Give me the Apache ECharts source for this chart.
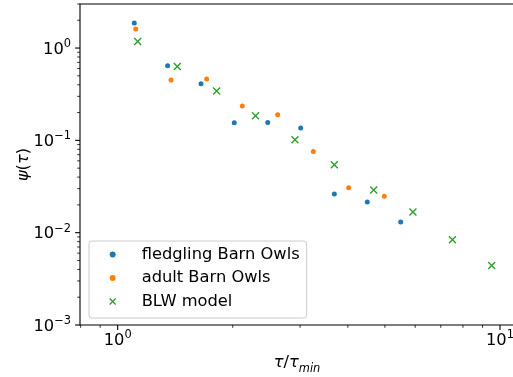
<!DOCTYPE html>
<html>
<head>
<meta charset="utf-8">
<script src="https://cdn.jsdelivr.net/npm/echarts@6/dist/echarts.min.js"></script>
<style>
  html, body { margin: 0; padding: 0; background: #fff; }
  #chart { width: 513px; height: 377px; }
</style>
</head>
<body>
<div id="chart"></div>
<script>
// values (log-log)
const fledglingX = [1.105, 1.351, 1.652, 2.018, 2.469, 3.011, 3.687, 4.497, 5.499];
const fledglingY = [1.866, 0.643, 0.4106, 0.1552, 0.1564, 0.136, 0.02622, 0.02148, 0.01304];
const adultX = [1.115, 1.379, 1.709, 2.118, 2.621, 3.249, 4.02, 4.982];
const adultY = [1.606, 0.450, 0.4616, 0.2354, 0.1895, 0.0759, 0.0307, 0.0248];
const blwX = [1.128, 1.432, 1.815, 2.294, 2.909, 3.687, 4.675, 5.92, 7.51, 9.51];
const blwY = [1.179, 0.632, 0.342, 0.1848, 0.1016, 0.0545, 0.02897, 0.01674, 0.00839, 0.00442];

const seriesNames = ['fledgling Barn Owls', 'adult Barn Owls', 'BLW model'];

// tick positions (matplotlib style log ticks)
const xMajorTicks = [1, 10];
const xMinorTicks = [0.8, 0.9, 2, 3, 4, 5, 6, 7, 8, 9];
const yMajorTicks = [0.001, 0.01, 0.1, 1];
const yMinorTicks = [
  0.002, 0.003, 0.004, 0.005, 0.006, 0.007, 0.008, 0.009,
  0.02, 0.03, 0.04, 0.05, 0.06, 0.07, 0.08, 0.09,
  0.2, 0.3, 0.4, 0.5, 0.6, 0.7, 0.8, 0.9,
  2, 3
];

const X_MIN = 0.797, X_MAX = 10.88;
const Y_MIN = 0.001, Y_MAX = 3.0;

const FONT = 'DejaVu Sans';
const FS = 16.3;
const xMarkPath = 'path://M0,0L10,10M10,0L0,10';

const zip = (xs, ys) => xs.map((x, i) => [x, ys[i]]);

function powLabel(v) {
  const e = Math.round(Math.log10(v));
  if (Math.abs(Math.log10(v) - e) > 1e-6) return '';
  const exp = e < 0 ? '\u2212' + (-e) : String(e);
  return '{b|10}{s|' + exp + '}';
}

const tickRich = {
  b: { fontFamily: FONT, fontSize: FS, color: '#000', lineHeight: 19, verticalAlign: 'bottom' },
  s: { fontFamily: FONT, fontSize: 11.4, color: '#000', lineHeight: 19, verticalAlign: 'top' }
};

// tick marks drawn through the axes' own coordinate mapping
function tickSeries(values, isX, major) {
  return {
    type: 'custom',
    silent: true,
    clip: false,
    z: 5,
    data: values.map(v => [v]),
    renderItem: (params, api) => {
      const v = api.value(0);
      const len = major ? 4.9 : 2.8;
      const lw = major ? 1.1 : 0.8;
      let shape;
      if (isX) {
        const p = api.coord([v, Y_MIN]);
        shape = { x1: p[0], y1: p[1], x2: p[0], y2: p[1] + len };
      } else {
        const p = api.coord([X_MIN, v]);
        shape = { x1: p[0] - len, y1: p[1], x2: p[0], y2: p[1] };
      }
      return { type: 'line', shape: shape, style: { stroke: '#000', lineWidth: lw } };
    }
  };
}

const chart = echarts.init(document.getElementById('chart'), null, { renderer: 'canvas' });

const option = {
  animation: false,
  backgroundColor: '#fff',
  grid: {
    left: 80, top: 4, right: -1, bottom: 52,
    outerBoundsMode: 'none',
    containLabel: false,
    show: true, borderColor: '#000', borderWidth: 1.1, backgroundColor: 'transparent'
  },
  xAxis: {
    type: 'log',
    min: X_MIN,
    max: X_MAX,
    axisLine: { show: false },
    axisTick: { show: false },
    splitLine: { show: false },
    axisLabel: { formatter: powLabel, rich: tickRich, margin: 5, showMinLabel: false, showMaxLabel: false },
    name: '{i|τ}{n|/}{i|τ}{sub|min}',
    nameLocation: 'middle',
    nameGap: 30,
    nameTextStyle: {
      rich: {
        i: { fontFamily: FONT, fontSize: FS, fontStyle: 'italic', color: '#000', lineHeight: 20, verticalAlign: 'top' },
        n: { fontFamily: FONT, fontSize: FS, color: '#000', lineHeight: 20, verticalAlign: 'top' },
        sub: { fontFamily: FONT, fontSize: 11.4, fontStyle: 'italic', color: '#000', lineHeight: 20, verticalAlign: 'bottom' }
      }
    }
  },
  yAxis: {
    type: 'log',
    min: Y_MIN,
    max: Y_MAX,
    axisLine: { show: false },
    axisTick: { show: false },
    splitLine: { show: false },
    axisLabel: { formatter: powLabel, rich: tickRich, margin: 9 },
    name: '{i|ψ}{n|(}{i|τ}{n|)}',
    nameLocation: 'middle',
    nameGap: 48,
    nameMoveOverlap: false,
    nameTextStyle: {
      rich: {
        i: { fontFamily: FONT, fontSize: FS, fontStyle: 'italic', color: '#000' },
        n: { fontFamily: FONT, fontSize: FS, color: '#000' }
      }
    }
  },
  legend: {
    orient: 'vertical',
    left: 89,
    top: 241,
    padding: [4, 7, 7, 20],
    itemGap: 4.5,
    itemWidth: 20,
    itemHeight: 6,
    borderColor: '#cccccc',
    borderWidth: 1,
    borderRadius: 3,
    backgroundColor: 'rgba(255,255,255,0.8)',
    textStyle: { fontFamily: FONT, fontSize: FS, color: '#000', lineHeight: 19, padding: [0, 0, 0, 14] },
    selectedMode: false,
    data: [
      { name: seriesNames[0], icon: 'circle', itemStyle: { opacity: 1 } },
      { name: seriesNames[1], icon: 'circle', itemStyle: { opacity: 1 } },
      { name: seriesNames[2], icon: xMarkPath, itemStyle: { color: '#2ca02c', borderColor: '#2ca02c', borderWidth: 1.3, opacity: 1 } }
    ]
  },
  series: [
    {
      name: seriesNames[0],
      type: 'scatter',
      symbol: 'circle',
      symbolSize: 5,
      itemStyle: { color: '#1f77b4', opacity: 1 },
      emphasis: { disabled: true },
      data: zip(fledglingX, fledglingY)
    },
    {
      name: seriesNames[1],
      type: 'scatter',
      symbol: 'circle',
      symbolSize: 5,
      itemStyle: { color: '#ff7f0e', opacity: 1 },
      emphasis: { disabled: true },
      data: zip(adultX, adultY)
    },
    {
      name: seriesNames[2],
      type: 'scatter',
      symbol: xMarkPath,
      symbolSize: 7,
      itemStyle: { color: '#2ca02c', borderColor: '#2ca02c', borderWidth: 1.4, opacity: 1 },
      emphasis: { disabled: true },
      data: zip(blwX, blwY)
    },
    tickSeries(xMajorTicks, true, true),
    tickSeries(xMinorTicks, true, false),
    tickSeries(yMajorTicks, false, true),
    tickSeries(yMinorTicks, false, false)
  ]
};

chart.setOption(option);
</script>
</body>
</html>
